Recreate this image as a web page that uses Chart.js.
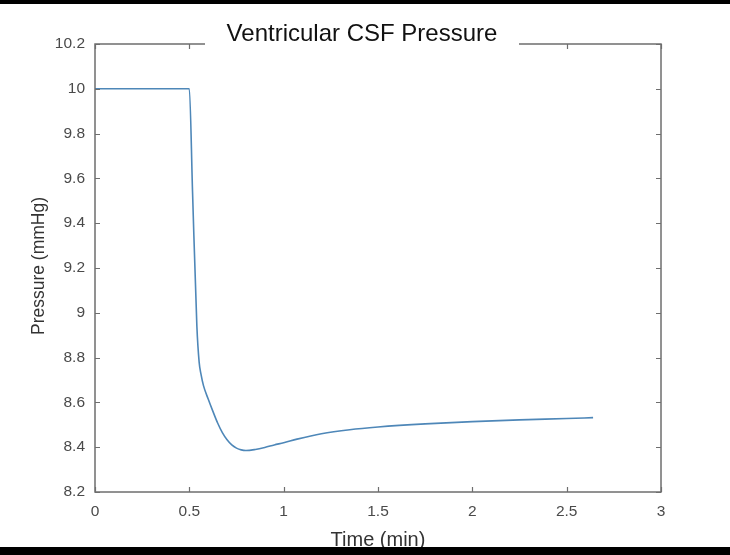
<!DOCTYPE html>
<html lang="en">
  <head>
    <meta charset="UTF-8" />
    <meta name="viewport" content="width=device-width, initial-scale=1.0" />
    <script src="https://cdn.jsdelivr.net/npm/chart.js"></script>
    <title>Ventricular CSF Pressure</title>
    <style>
      html, body { margin: 0; padding: 0; background: #fff; }
    </style>
  </head>
  <body>
    <canvas id="myChart" width="730" height="555"></canvas>
    <script>
      // values
      const timeMin = [0, 0.5, 0.517, 0.54, 0.552, 0.562, 0.575, 0.6, 0.625, 0.65, 0.675, 0.7, 0.725, 0.75, 0.775, 0.8, 0.85, 0.9, 0.95, 1.0, 1.071, 1.2, 1.35, 1.5, 1.75, 2.0, 2.25, 2.5, 2.64];
      const pressure = [10.0, 10.0, 9.54, 8.94, 8.78, 8.725, 8.675, 8.615, 8.56, 8.508, 8.465, 8.433, 8.41, 8.396, 8.388, 8.385, 8.39, 8.399, 8.41, 8.42, 8.436, 8.46, 8.478, 8.49, 8.504, 8.514, 8.522, 8.528, 8.532];

      const xTicks = [0, 0.5, 1, 1.5, 2, 2.5, 3];
      const xTickLabels = ["0", "0.5", "1", "1.5", "2", "2.5", "3"];
      const yTicks = [8.2, 8.4, 8.6, 8.8, 9, 9.2, 9.4, 9.6, 9.8, 10, 10.2];
      const yTickLabels = ["8.2", "8.4", "8.6", "8.8", "9", "9.2", "9.4", "9.6", "9.8", "10", "10.2"];

      const titleText = "Ventricular CSF Pressure";
      const xTitle = "Time (min)";
      const yTitle = "Pressure (mmHg)";

      const axisGray = "#6e6e6e";
      const labelGray = "#4a4a4a";

      // matlab style box, inward ticks, title over the top edge, black strips
      const matlabFrame = {
        id: "matlabFrame",
        beforeDraw(chart) {
          const ctx = chart.ctx;
          ctx.save();
          ctx.fillStyle = "#fff";
          ctx.fillRect(0, 0, chart.width, chart.height);
          ctx.restore();
        },
        afterDraw(chart) {
          const { ctx, chartArea: a, scales } = chart;
          const x = scales.x, y = scales.y;
          ctx.save();
          ctx.strokeStyle = axisGray;
          ctx.lineWidth = 1.5;
          ctx.strokeRect(a.left, a.top, a.right - a.left, a.bottom - a.top);
          ctx.lineWidth = 1.2;
          ctx.beginPath();
          xTicks.forEach((v) => {
            const px = Math.round(x.getPixelForValue(v)) + 0.5;
            ctx.moveTo(px, a.bottom); ctx.lineTo(px, a.bottom - 5);
            ctx.moveTo(px, a.top); ctx.lineTo(px, a.top + 5);
          });
          yTicks.forEach((v) => {
            const py = Math.round(y.getPixelForValue(v)) + 0.5;
            ctx.moveTo(a.left, py); ctx.lineTo(a.left + 5, py);
            ctx.moveTo(a.right, py); ctx.lineTo(a.right - 5, py);
          });
          ctx.stroke();

          // title sits on a white patch that hides part of the top edge
          ctx.fillStyle = "#fff";
          ctx.fillRect(205, 12, 314, 39);
          ctx.fillStyle = "#111";
          ctx.font = '24px "Liberation Sans", Arial, sans-serif';
          ctx.textAlign = "center";
          ctx.textBaseline = "alphabetic";
          ctx.fillText(titleText, 362, 41);

          // axis titles
          ctx.fillStyle = "#333";
          ctx.font = '20px "Liberation Sans", Arial, sans-serif';
          ctx.fillText(xTitle, (a.left + a.right) / 2, 546);
          ctx.save();
          ctx.translate(44, (a.top + a.bottom) / 2 - 2);
          ctx.rotate(-Math.PI / 2);
          ctx.font = '17.5px "Liberation Sans", Arial, sans-serif';
          ctx.fillText(yTitle, 0, 0);
          ctx.restore();

          // black strips at top and bottom of the picture
          ctx.fillStyle = "#000";
          ctx.fillRect(0, 0, chart.width, 4);
          ctx.fillRect(0, 547, chart.width, chart.height - 547);
          ctx.restore();
        },
      };

      const points = timeMin.map((t, i) => ({ x: t, y: pressure[i] }));

      const ctx = document.getElementById("myChart").getContext("2d");
      const chart = new Chart(ctx, {
        type: "line",
        data: {
          datasets: [
            {
              label: yTitle,
              data: points,
              borderColor: "#4e87b8",
              borderWidth: 1.6,
              pointRadius: 0,
              fill: false,
              cubicInterpolationMode: "monotone",
            },
          ],
        },
        options: {
          responsive: false,
          animation: false,
          layout: { padding: { top: 44, right: 69, bottom: 0, left: 0 } },
          plugins: {
            legend: { display: false },
            tooltip: { enabled: false },
            title: { display: false },
          },
          scales: {
            x: {
              type: "linear",
              min: 0,
              max: 3,
              grid: { display: false, drawTicks: false },
              border: { display: false },
              afterBuildTicks: (scale) => { scale.ticks = xTicks.map((v) => ({ value: v })); },
              afterFit: (scale) => { scale.height = 63; },
              ticks: {
                padding: 10,
                maxRotation: 0,
                color: labelGray,
                font: { family: '"Liberation Sans", Arial, sans-serif', size: 15.5 },
                callback: (value, index) => xTickLabels[index],
              },
            },
            y: {
              type: "linear",
              min: 8.2,
              max: 10.2,
              grid: { display: false, drawTicks: false },
              border: { display: false },
              afterBuildTicks: (scale) => { scale.ticks = yTicks.map((v) => ({ value: v })); },
              afterFit: (scale) => { scale.width = 95; },
              ticks: {
                padding: 10,
                color: labelGray,
                font: { family: '"Liberation Sans", Arial, sans-serif', size: 15.5 },
                callback: (value, index) => yTickLabels[index],
              },
            },
          },
        },
        plugins: [matlabFrame],
      });
    </script>
  </body>
</html>
